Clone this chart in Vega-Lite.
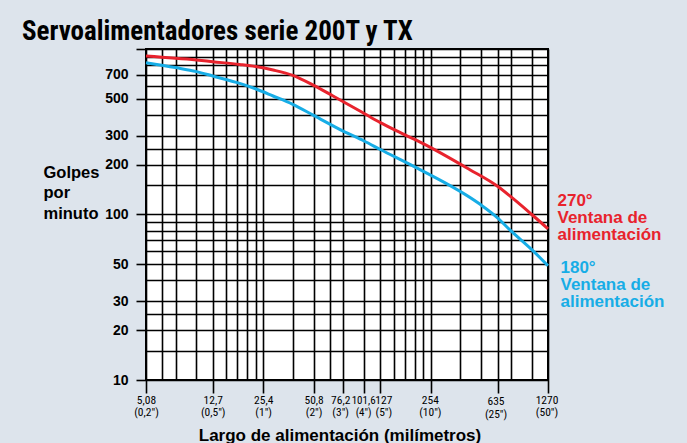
{
  "$schema": "https://vega.github.io/schema/vega-lite/v6.json",
  "width": 402,
  "height": 331,
  "autosize": {"type": "none"},
  "padding": {"left": 146, "top": 49, "right": 139, "bottom": 63},
  "background": "#dde4ec",
  "config": {
    "view": {"fill": "white", "stroke": "black", "strokeWidth": 2},
    "font": "Liberation Sans"
  },
  "title": {
    "text": "Servoalimentadores serie 200T y TX",
    "anchor": "start",
    "frame": "group",
    "dx": -124,
    "offset": -25,
    "baseline": "alphabetic",
    "font": "Roboto Condensed, Liberation Sans",
    "fontSize": 27,
    "fontWeight": "bold",
    "color": "black"
  },
  "datasets": {
    "curves": [
      {"serie": "270", "mm": 5.08, "gpm": 907},
      {"serie": "270", "mm": 10.16, "gpm": 858},
      {"serie": "270", "mm": 12.7, "gpm": 838},
      {"serie": "270", "mm": 18.4, "gpm": 806},
      {"serie": "270", "mm": 22.86, "gpm": 783},
      {"serie": "270", "mm": 29.1, "gpm": 746},
      {"serie": "270", "mm": 38.1, "gpm": 693},
      {"serie": "270", "mm": 50.8, "gpm": 603},
      {"serie": "270", "mm": 66.3, "gpm": 520},
      {"serie": "270", "mm": 101.6, "gpm": 408},
      {"serie": "270", "mm": 127, "gpm": 359},
      {"serie": "270", "mm": 177.8, "gpm": 303},
      {"serie": "270", "mm": 228.6, "gpm": 268},
      {"serie": "270", "mm": 432, "gpm": 187},
      {"serie": "270", "mm": 635, "gpm": 148},
      {"serie": "270", "mm": 755, "gpm": 129},
      {"serie": "270", "mm": 1016, "gpm": 100},
      {"serie": "270", "mm": 1270, "gpm": 82},
      {"serie": "180", "mm": 5.08, "gpm": 827},
      {"serie": "180", "mm": 7.62, "gpm": 772},
      {"serie": "180", "mm": 10.16, "gpm": 730},
      {"serie": "180", "mm": 12.7, "gpm": 687},
      {"serie": "180", "mm": 18.4, "gpm": 620},
      {"serie": "180", "mm": 22.86, "gpm": 575},
      {"serie": "180", "mm": 29.1, "gpm": 520},
      {"serie": "180", "mm": 38.1, "gpm": 463},
      {"serie": "180", "mm": 50.8, "gpm": 397},
      {"serie": "180", "mm": 76.2, "gpm": 319},
      {"serie": "180", "mm": 101.6, "gpm": 278},
      {"serie": "180", "mm": 127, "gpm": 247},
      {"serie": "180", "mm": 208, "gpm": 192},
      {"serie": "180", "mm": 495, "gpm": 116},
      {"serie": "180", "mm": 635, "gpm": 95.5},
      {"serie": "180", "mm": 755, "gpm": 80.5},
      {"serie": "180", "mm": 1016, "gpm": 61.4},
      {"serie": "180", "mm": 1270, "gpm": 49}
    ],
    "labels": [
      {"serie": "270", "mm": 1270, "gpm": 113, "txt": "270°\nVentana de\nalimentación"},
      {"serie": "180", "mm": 1270, "gpm": 44.4, "txt": "180°\nVentana de\nalimentación"}
    ]
  },
  "layer": [
    {
      "data": {"name": "curves"},
      "mark": {"type": "line", "interpolate": "monotone", "strokeWidth": 3},
      "encoding": {
        "x": {
          "field": "mm",
          "type": "quantitative",
          "scale": {"type": "log", "domain": [5.08, 1270], "nice": false},
          "axis": {
            "values": [5.08, 6.35, 7.62, 10.16, 12.7, 15.24, 17.78, 20.32, 22.86, 25.4, 38.1, 50.8, 63.5, 76.2, 101.6, 127, 152.4, 177.8, 203.2, 228.6, 254, 381, 508, 635, 762, 1016, 1270],
            "grid": true,
            "gridColor": "black",
            "gridWidth": 1.6,
            "gridOpacity": 1,
            "domain": false,
            "tickColor": "black",
            "tickWidth": 1.6,
            "tickSize": 13,
            "tickOpacity": {"condition": {"test": "indexof([5.08,12.7,25.4,50.8,76.2,101.6,127,254,635,1270], datum.value) >= 0", "value": 1}, "value": 0},
            "labelExpr": "datum.value==5.08?['5,08','(0,2\")']:datum.value==12.7?['12,7','(0,5\")']:datum.value==25.4?['25,4','(1\")']:datum.value==50.8?['50,8','(2\")']:datum.value==76.2?['76,2','(3\")']:datum.value==101.6?['101,6','(4\")']:datum.value==127?['127','(5\")']:datum.value==254?['254','(10\")']:datum.value==635?['635','(25\")']:datum.value==1270?['1270','(50\")']:''",
            "labelFont": "Roboto Condensed, Liberation Sans",
            "labelFontSize": {"condition": {"test": "datum.value == 101.6", "value": 11}, "value": 11.5},
            "labelLineHeight": 12.6,
            "labelPadding": {"condition": {"test": "datum.value == 635", "value": 2.5}, "value": 1},
            "labelOffset": {"condition": [
              {"test": "datum.value == 76.2", "value": -3},
              {"test": "datum.value == 101.6", "value": -1},
              {"test": "datum.value == 127", "value": 3},
              {"test": "datum.value == 254", "value": -1},
              {"test": "datum.value == 635", "value": -2},
              {"test": "datum.value == 1270", "value": -1.5}
            ], "value": 0},
            "labelOverlap": false,
            "labelFlush": false,
            "labelColor": "black",
            "title": "Largo de alimentación (milímetros)",
            "titleFont": "Liberation Sans",
            "titleFontWeight": "bold",
            "titleFontSize": 17,
            "titleColor": "black",
            "titleX": 193.5,
            "titleY": 60,
            "titleBaseline": "alphabetic",
            "titleAlign": "center"
          }
        },
        "y": {
          "field": "gpm",
          "type": "quantitative",
          "scale": {"type": "log", "domain": [10, 1000], "nice": false},
          "axis": {
            "values": [10, 15, 20, 25, 30, 40, 50, 60, 70, 80, 90, 100, 150, 200, 250, 300, 400, 500, 600, 700, 800, 900, 1000],
            "grid": true,
            "gridColor": "black",
            "gridWidth": 1.6,
            "gridOpacity": 1,
            "domain": false,
            "tickColor": "black",
            "tickWidth": 1.6,
            "tickSize": 10,
            "tickOpacity": {"condition": {"test": "indexof([10,20,30,50,100,200,300,500,700,1000], datum.value) >= 0", "value": 1}, "value": 0},
            "labelExpr": "indexof([10,20,30,50,100,200,300,500,700], datum.value) >= 0 ? toString(datum.value) : ''",
            "labelFont": "Liberation Sans",
            "labelFontWeight": "bold",
            "labelFontSize": 14,
            "labelPadding": 8,
            "labelOverlap": false,
            "labelFlush": false,
            "labelColor": "black",
            "title": ["Golpes", "por", "minuto"],
            "titleAngle": 0,
            "titleAlign": "left",
            "titleBaseline": "alphabetic",
            "titleX": -103,
            "titleY": 128.7,
            "titleFont": "Liberation Sans",
            "titleFontWeight": "bold",
            "titleFontSize": 16.5,
            "titleLineHeight": 20.3,
            "titleColor": "black"
          }
        },
        "color": {
          "field": "serie",
          "type": "nominal",
          "scale": {"domain": ["270", "180"], "range": ["#e8232d", "#17ade6"]},
          "legend": null
        }
      }
    },
    {
      "data": {"name": "labels"},
      "transform": [{"filter": "datum.serie == '270'"}],
      "mark": {"type": "text", "align": "left", "baseline": "alphabetic", "dx": 9.5, "lineBreak": "\n", "lineHeight": 17, "fontSize": 17, "fontWeight": "bold", "font": "Liberation Sans", "clip": false},
      "encoding": {
        "x": {"field": "mm", "type": "quantitative"},
        "y": {"field": "gpm", "type": "quantitative"},
        "text": {"field": "txt"},
        "color": {"field": "serie", "type": "nominal", "legend": null}
      }
    },
    {
      "data": {"name": "labels"},
      "transform": [{"filter": "datum.serie == '180'"}],
      "mark": {"type": "text", "align": "left", "baseline": "alphabetic", "dx": 12.5, "lineBreak": "\n", "lineHeight": 17, "fontSize": 17, "fontWeight": "bold", "font": "Liberation Sans", "clip": false},
      "encoding": {
        "x": {"field": "mm", "type": "quantitative"},
        "y": {"field": "gpm", "type": "quantitative"},
        "text": {"field": "txt"},
        "color": {"field": "serie", "type": "nominal", "legend": null}
      }
    }
  ]
}
